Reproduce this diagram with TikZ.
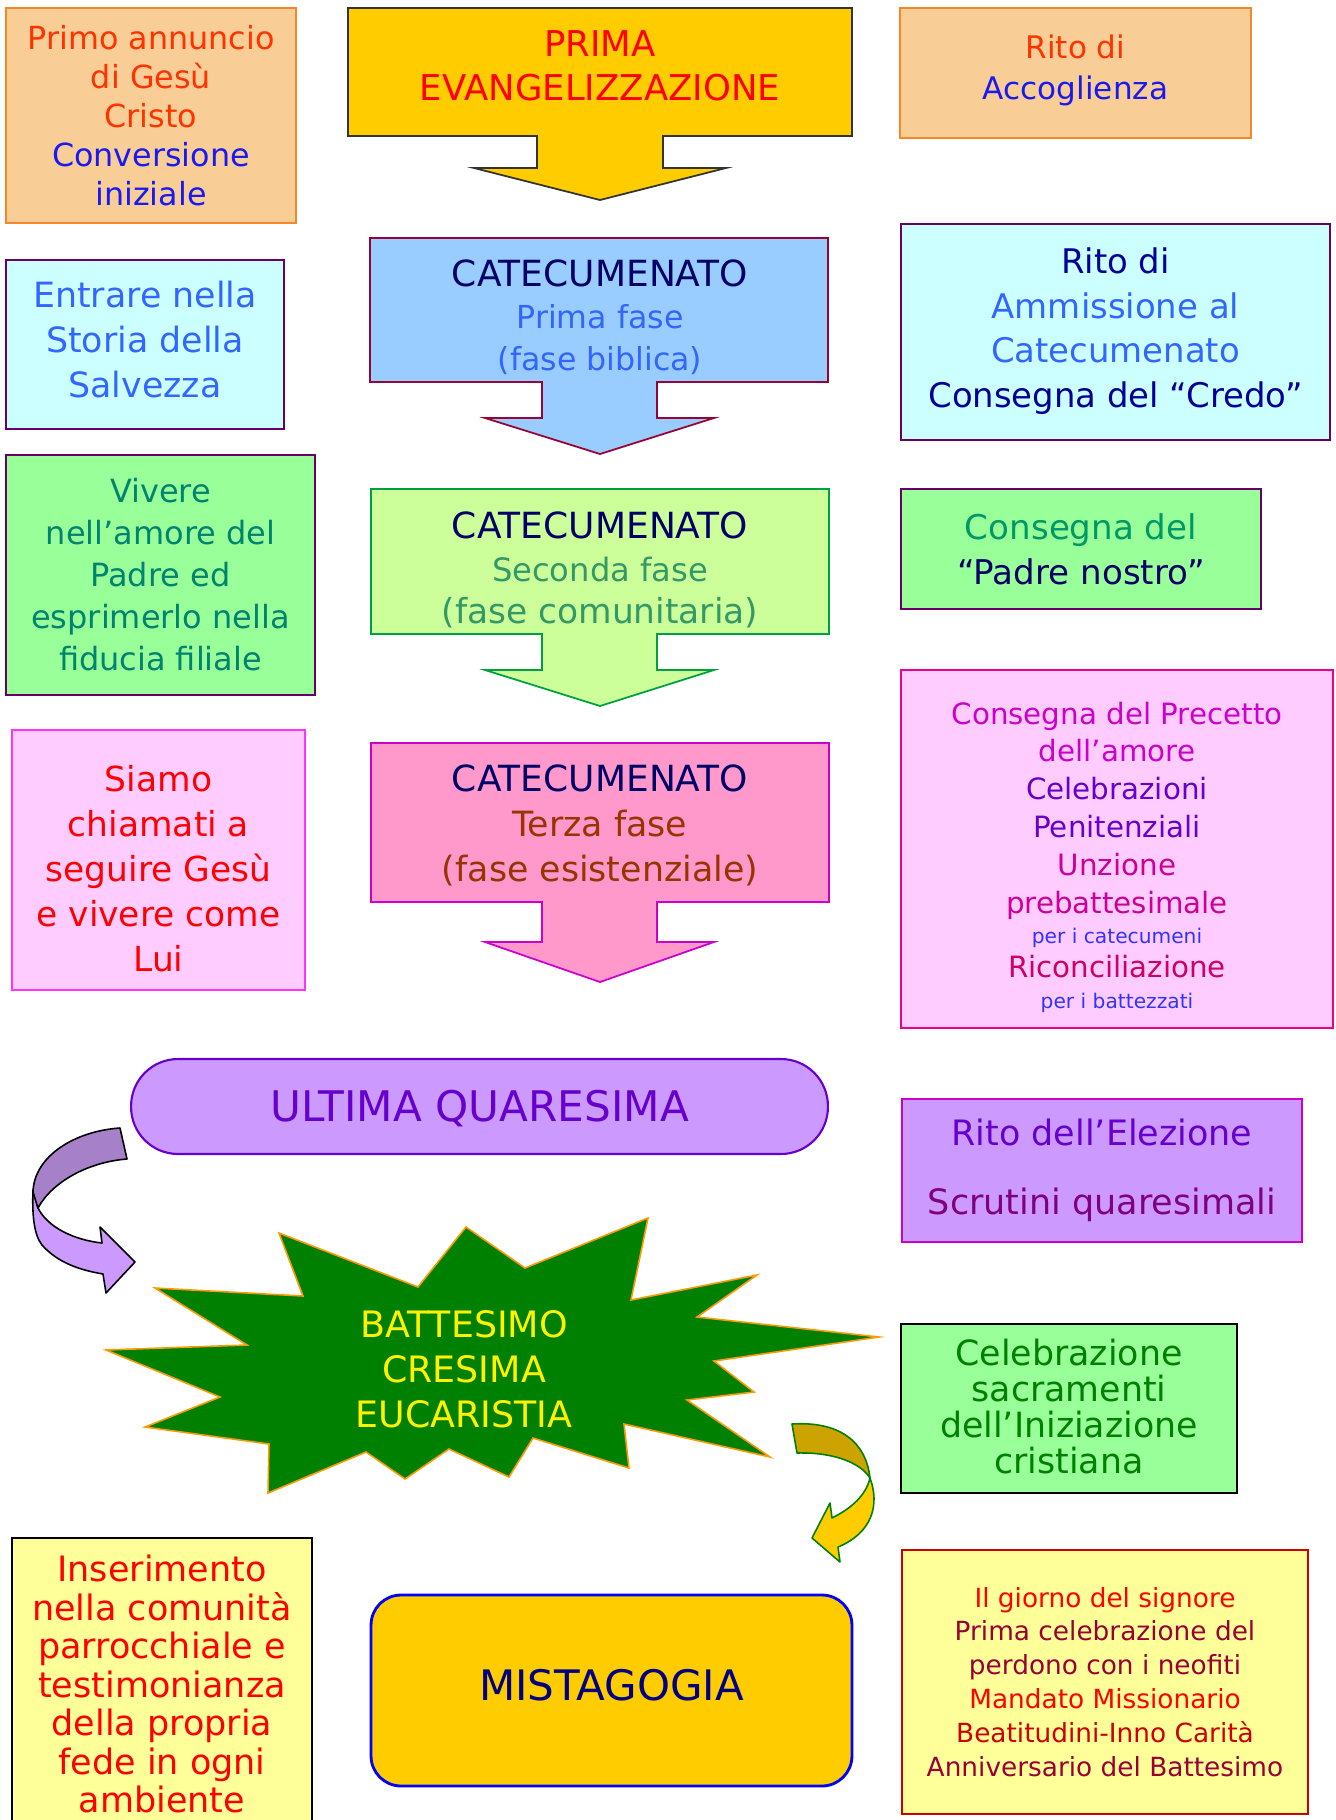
\documentclass[tikz,border=0pt]{standalone}
\usepackage{fontspec}
\setmainfont{DejaVu Sans}
\usetikzlibrary{positioning,calc}

% colours
\definecolor{tanfill}{HTML}{F8CE96}
\definecolor{tanline}{HTML}{F5862A}
\definecolor{txtorange}{HTML}{FF3300}
\definecolor{txtblue}{HTML}{1A1AF0}
\definecolor{goldfill}{HTML}{FFCC00}
\definecolor{darkgrayline}{HTML}{333333}
\definecolor{cyanfill}{HTML}{CCFFFF}
\definecolor{plumline}{HTML}{660066}
\definecolor{midblue}{HTML}{3366FF}
\definecolor{navytxt}{HTML}{000066}
\definecolor{darkbluetxt}{HTML}{000099}
\definecolor{skyfill}{HTML}{99CCFF}
\definecolor{wineline}{HTML}{990033}
\definecolor{mintfill}{HTML}{99FF99}
\definecolor{viveretxt}{HTML}{00836F}
\definecolor{limefill}{HTML}{CCFF99}
\definecolor{leafline}{HTML}{00A040}
\definecolor{secondatxt}{HTML}{339966}
\definecolor{padretxt}{HTML}{009966}
\definecolor{rosefill}{HTML}{FFCCFF}
\definecolor{roseline}{HTML}{FF33FF}
\definecolor{pinkfill}{HTML}{FF99CC}
\definecolor{pinkline}{HTML}{CC00CC}
\definecolor{terzatxt}{HTML}{993300}
\definecolor{pcmagenta}{HTML}{CC00CC}
\definecolor{pcviolet}{HTML}{6600CC}
\definecolor{pcrose}{HTML}{CC0099}
\definecolor{pcred}{HTML}{CC0066}
\definecolor{smallblue}{HTML}{3333FF}
\definecolor{lilacfill}{HTML}{CC99FF}
\definecolor{violetline}{HTML}{6600CC}
\definecolor{scrutinitxt}{HTML}{800080}
\definecolor{starfill}{HTML}{008000}
\definecolor{starline}{HTML}{FF9900}
\definecolor{celebtxt}{HTML}{008000}
\definecolor{creamfill}{HTML}{FFFF99}
\definecolor{mistatxt}{HTML}{000080}
\definecolor{giornoline}{HTML}{CC0000}
\definecolor{giornodark}{HTML}{990033}
\definecolor{lilacdark}{HTML}{A680C8}
\definecolor{olivegold}{HTML}{CCA300}

\newcommand{\fsz}[2]{\fontsize{#1}{#2}\selectfont}

\begin{document}
\begin{tikzpicture}[x=0.02cm,y=-0.02cm,
    box/.style={draw,line width=1pt,rectangle,align=center,inner sep=0pt},
    blockarrow/.style={line width=1pt,line join=miter},
    twist/.style={line width=0.9pt,line join=round}]

  \useasboundingbox (0,0) rectangle (1336,1820);
  \clip (0,0) rectangle (1336,1820);

  % left column
  \node[box,fill=tanfill,draw=tanline,minimum width=5.8cm,minimum height=4.3cm,
    font={\fsz{18.1}{22.2}}] (annuncio) at (151,115.5)
    {\color{txtorange}Primo annuncio\\\color{txtorange}di Gesù\\\color{txtorange}Cristo\\
     \color{txtblue}Conversione\\\color{txtblue}iniziale};
  \node[box,fill=cyanfill,draw=plumline,minimum width=5.56cm,minimum height=3.38cm,
    font={\fsz{19.8}{25.6}}] (storia) at (145,344.5)
    {\color{midblue}Entrare nella\\\color{midblue}Storia della\\\color{midblue}Salvezza\rule[-5.6pt]{0pt}{0pt}};
  \node[box,fill=mintfill,draw=plumline,minimum width=6.18cm,minimum height=4.8cm,
    font={\fsz{18.2}{23.9}}] (vivere) at (160.5,575)
    {\color{viveretxt}Vivere\\\color{viveretxt}nell’amore del\\\color{viveretxt}Padre ed\\
     \color{viveretxt}esprimerlo nella\\\color{viveretxt}fiducia filiale};
  \node[box,fill=rosefill,draw=roseline,minimum width=5.86cm,minimum height=5.2cm,
    font={\fsz{19.6}{25.6}}] (siamo) at (158.5,860)
    {\rule{0pt}{25pt}\color{red}Siamo\\\color{red}chiamati a\\\color{red}seguire Gesù\\\color{red}e vivere come\\\color{red}Lui};
  \node[box,fill=creamfill,draw=black,minimum width=6cm,minimum height=5.84cm,
    font={\fsz{19.9}{21.9}}] (inserimento) at (162,1684)
    {\color{red}Inserimento\\\color{red}nella comunità\\\color{red}parrocchiale e\\\color{red}testimonianza\\
     \color{red}della propria\\\color{red}fede in ogni\\\color{red}ambiente};

  % central column: the four steps
  \draw[blockarrow,fill=goldfill,draw=darkgrayline] (348,8) -- (852,8) -- (852,136) -- (663,136)
    -- (663,168) -- (726,168) -- (600,200) -- (474,168) -- (537,168) -- (537,136) -- (348,136) -- cycle;
  \node[align=center,font={\fsz{20.2}{25}}] (prima) at (600,66)
    {\color{red}PRIMA\\\color{red}EVANGELIZZAZIONE};

  \draw[blockarrow,fill=skyfill,draw=wineline] (370,238) -- (828,238) -- (828,382) -- (657,382)
    -- (657,418) -- (714,418) -- (600,454) -- (485,418) -- (542,418) -- (542,382) -- (370,382) -- cycle;
  \node[align=center,font={\fsz{18}{24}}] (fase1) at (600,317)
    {\fsz{20.5}{24}\color{navytxt}CATECUMENATO\\\color{midblue}Prima fase\\\color{midblue}(fase biblica)};

  \draw[blockarrow,fill=limefill,draw=leafline] (371,489) -- (829,489) -- (829,634) -- (657,634)
    -- (657,670) -- (714,670) -- (600,706) -- (485,670) -- (542,670) -- (542,634) -- (371,634) -- cycle;
  \node[align=center,font={\fsz{19.6}{24.4}}] (fase2) at (600,570)
    {\fsz{20.5}{24.4}\color{navytxt}CATECUMENATO\\\fsz{18.3}{24.4}\color{secondatxt}Seconda fase\\
     \color{secondatxt}(fase comunitaria)};

  \draw[blockarrow,fill=pinkfill,draw=pinkline] (371,743) -- (829,743) -- (829,902) -- (657,902)
    -- (657,942) -- (714,942) -- (600,982) -- (485,942) -- (542,942) -- (542,902) -- (371,902) -- cycle;
  \node[align=center,font={\fsz{19.8}{25.6}}] (fase3) at (600,825)
    {\fsz{20.5}{25.6}\color{navytxt}CATECUMENATO\\\color{terzatxt}Terza fase\\\color{terzatxt}(fase esistenziale)};

  \node[box,fill=lilacfill,draw=violetline,line width=1.2pt,rounded corners=0.94cm,
    minimum width=13.94cm,minimum height=1.9cm,font={\fsz{24}{28}}] (quaresima) at (479.5,1106.5)
    {\color{violetline}ULTIMA QUARESIMA\rule{0pt}{20pt}};

  % the star of the sacraments
  \draw[line width=0.9pt,fill=starfill,draw=starline,line join=miter]
    (648,1218) -- (631,1300) -- (757,1275) -- (697,1317) -- (879,1337) -- (714,1361)
    -- (754,1392) -- (687,1400) -- (770,1457) -- (624,1424) -- (629,1468) -- (533,1438)
    -- (509,1477) -- (449,1449) -- (405,1479) -- (366,1452) -- (268,1493) -- (269,1444)
    -- (145,1427) -- (220,1397) -- (106,1350) -- (247,1345) -- (155,1288) -- (303,1296)
    -- (279,1233) -- (418,1287) -- (466,1227) -- (525,1268) -- cycle;
  \node[align=center,font={\fsz{20.7}{25.6}}] (sacramenti) at (464,1369)
    {\color{yellow}BATTESIMO\\\color{yellow}CRESIMA\\\color{yellow}EUCARISTIA};

  \node[box,fill=goldfill,draw=blue,line width=1.6pt,rounded corners=0.6cm,
    minimum width=9.62cm,minimum height=3.82cm,font={\fsz{23.9}{28}}] (mistagogia) at (611.5,1690.5)
    {\color{mistatxt}MISTAGOGIA\rule[-6.6pt]{0pt}{0pt}};

  % twisted arrows
  \draw[twist,fill=lilacfill] (33,1190) .. controls (32,1215) and (34,1235) .. (42,1245)
    .. controls (58,1263) and (80,1270) .. (103,1274) -- (106,1293) -- (135,1262) -- (100,1227)
    -- (102,1243) .. controls (75,1240) and (48,1228) .. (38,1208) -- cycle;
  \draw[twist,fill=lilacdark] (120,1128) .. controls (75,1131) and (34,1156) .. (33,1192)
    -- (38,1208) .. controls (52,1182) and (88,1162) .. (127,1159) -- cycle;

  \draw[twist,draw=starfill,fill=goldfill] (870,1478) .. controls (880,1505) and (872,1533) .. (838,1547)
    -- (840,1562) -- (812,1538) -- (830,1503) -- (832,1518)
    .. controls (852,1508) and (866,1495) .. (870,1478) -- cycle;
  \draw[twist,draw=starfill,fill=olivegold] (792,1424) .. controls (840,1421) and (866,1442) .. (870,1478)
    .. controls (860,1462) and (832,1452) .. (797,1453) -- cycle;

  % right column: the rites
  \node[box,fill=tanfill,draw=tanline,minimum width=7.02cm,minimum height=2.6cm,
    font={\fsz{17.7}{23.1}}] (accoglienza) at (1075.5,73)
    {\color{txtorange}Rito di\\\color{txtblue}Accoglienza\rule[-6.8pt]{0pt}{0pt}};
  \node[box,fill=cyanfill,draw=plumline,minimum width=8.58cm,minimum height=4.32cm,
    font={\fsz{19.3}{25.6}}] (ammissione) at (1115.5,332)
    {\color{darkbluetxt}Rito di\\\color{midblue}Ammissione al\\\color{midblue}Catecumenato\\
     \color{darkbluetxt}Consegna del “Credo”\rule[-5pt]{0pt}{0pt}};
  \node[box,fill=mintfill,draw=plumline,minimum width=7.2cm,minimum height=2.4cm,
    font={\fsz{19.4}{25.6}}] (padrenostro) at (1081,549)
    {\color{padretxt}Consegna del\\\color{navytxt}“Padre nostro”};
  \node[box,fill=rosefill,draw=magenta,minimum width=8.64cm,minimum height=7.16cm,
    font={\fsz{16.7}{21.5}}] (precetto) at (1117,849)
    {\rule{0pt}{22pt}\color{pcmagenta}Consegna del Precetto\\\color{pcmagenta}dell’amore\\
     \color{pcviolet}Celebrazioni\\\color{pcviolet}Penitenziali\\
     \color{pcrose}Unzione\\\color{pcrose}prebattesimale\\[-4.3pt]
     \fsz{11.5}{13}\color{smallblue}per i catecumeni\\[-2.3pt]
     \color{pcred}Riconciliazione\\[-3.7pt]
     \fsz{11.5}{13}\color{smallblue}per i battezzati};
  \node[box,fill=lilacfill,draw=pinkline,minimum width=8cm,minimum height=2.86cm,
    font={\fsz{19.9}{39}}] (elezione) at (1102,1170.5)
    {\color{violetline}Rito dell’Elezione\\\color{scrutinitxt}Scrutini quaresimali};
  \node[box,fill=mintfill,draw=black,minimum width=6.72cm,minimum height=3.38cm,
    font={\fsz{19.8}{20.5}}] (celebrazione) at (1069,1408.5)
    {\color{celebtxt}Celebrazione\\\color{celebtxt}sacramenti\\\color{celebtxt}dell’Iniziazione\\
     \color{celebtxt}cristiana\rule[-3pt]{0pt}{0pt}};
  \node[box,fill=creamfill,draw=giornoline,minimum width=8.12cm,minimum height=5.28cm,
    font={\fsz{15}{19.3}}] (giorno) at (1105,1682)
    {\color{red}Il giorno del signore\\\color{giornodark}Prima celebrazione del\\
     \color{giornodark}perdono con i neofiti\\\color{red}Mandato Missionario\\
     \color{giornoline}Beatitudini-Inno Carità\\\color{giornodark}Anniversario del Battesimo};
\end{tikzpicture}
\end{document}
